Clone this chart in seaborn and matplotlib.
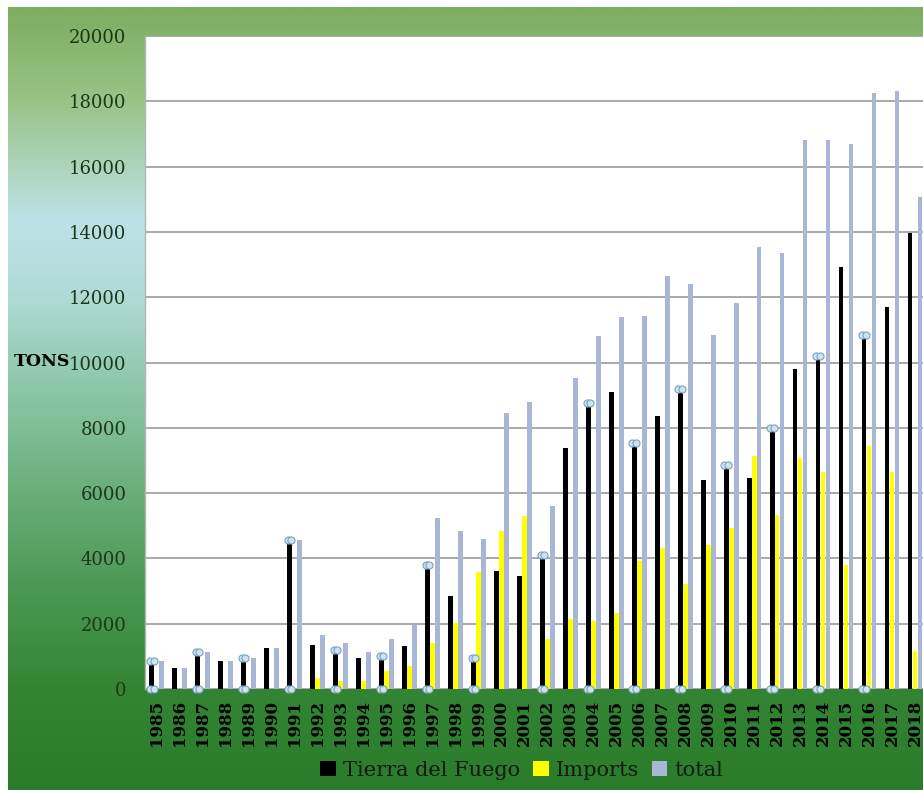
import numpy as np
import pandas as pd
import matplotlib
matplotlib.use("Agg")
import matplotlib.pyplot as plt
import matplotlib.transforms as mtransforms
from matplotlib.colors import LinearSegmentedColormap
from matplotlib.patches import Patch
import seaborn as sns

# ---------------- data ----------------
years = [str(y) for y in range(1985, 2019)]
tierra_del_fuego = [850, 650, 1140, 860, 950, 1250, 4560, 1350, 1190, 950, 1010, 1320,
                    3800, 2850, 940, 3620, 3470, 4100, 7390, 8750, 9110, 7520, 8360, 9200,
                    6400, 6860, 6450, 7980, 9790, 10200, 12910, 10850, 11710, 13980]
imports = [0, 0, 0, 0, 0, 0, 0, 340, 250, 250, 550, 690,
           1420, 2010, 3590, 4840, 5300, 1520, 2130, 2090, 2320, 3930, 4310, 3230,
           4410, 4920, 7150, 5330, 7070, 6660, 3800, 7440, 6660, 1170]
total = [850, 650, 1130, 860, 950, 1250, 4550, 1650, 1420, 1140, 1530, 1960,
         5250, 4840, 4580, 8440, 8780, 5600, 9520, 10810, 11400, 11420, 12650, 12400,
         10830, 11810, 13530, 13340, 16830, 16830, 16690, 18260, 18320, 15080]
series_names = ["Tierra del Fuego", "Imports", "total"]
marked_years = ["1985", "1987", "1989", "1991", "1993", "1995", "1997", "1999",
                "2002", "2004", "2006", "2008", "2010", "2012", "2014", "2016"]
y_ticks = list(range(0, 20001, 2000))

df = pd.DataFrame({
    "year": years * 3,
    "series": [series_names[0]] * len(years) + [series_names[1]] * len(years) + [series_names[2]] * len(years),
    "tons": tierra_del_fuego + imports + total,
})

colors = {"Tierra del Fuego": "#000000", "Imports": "#ffff00", "total": "#a9b6d6"}

# ---------------- figure ----------------
W, H = 923, 790
fig = plt.figure(figsize=(W / 100, H / 100), dpi=100, facecolor="white")

# gradient background panel
bg = fig.add_axes([8 / W, 0, 1 - 8 / W, 1 - 7 / H], zorder=-10)
stops = [(0.00, "#7cad60"), (0.12, "#98c488"), (0.27, "#bde2e6"), (0.36, "#b2dcd8"),
         (0.48, "#8ec8ac"), (0.62, "#69ae78"), (0.76, "#479650"), (0.87, "#338534"),
         (1.00, "#2a7b2a")]
cmap = LinearSegmentedColormap.from_list("bg", stops)
grad = np.linspace(0, 1, 512).reshape(-1, 1)
bg.imshow(grad, aspect="auto", cmap=cmap, extent=[0, 1, 0, 1], origin="upper")
bg.set_axis_off()

ax = fig.add_axes([145 / W, (H - 689) / H, 1 - 145 / W, (689 - 36) / H])
ax.set_facecolor("white")

sns.barplot(data=df, x="year", y="tons", hue="series", hue_order=series_names,
            palette=colors, width=0.65, gap=0.04, ax=ax, legend=False,
            saturation=1, zorder=3)

ax.set_xlim(-0.51, 33.35)
ax.set_ylim(0, 20000)
ax.set_yticks(y_ticks)
ax.set_yticklabels([str(v) for v in y_ticks])
ax.grid(axis="y", color="#a2a2a2", linewidth=1.3, zorder=0)
ax.grid(axis="x", visible=False)
ax.set_axisbelow(True)
for s in ["top", "right", "bottom"]:
    ax.spines[s].set_visible(False)
ax.spines["left"].set_color("#b5b5b5")
ax.spines["left"].set_linewidth(1.0)
ax.set_xlabel("")
ax.set_ylabel("")

ax.tick_params(axis="y", length=0, pad=13.5, labelsize=13, labelcolor="#1c361c")
ax.tick_params(axis="x", length=0, pad=8, labelsize=12, labelcolor="#000000")
for lab in ax.get_yticklabels():
    lab.set_family("DejaVu Serif")
for lab in ax.get_xticklabels():
    lab.set_family("DejaVu Serif")
    lab.set_fontweight("bold")
    lab.set_rotation(90)

# markers on selected Tierra del Fuego bars (top and bottom)
cont = ax.containers[0]
xs, ys = [], []
for i, y in enumerate(years):
    if y in marked_years:
        p = cont.patches[i]
        xc = p.get_x() + p.get_width() / 2
        xs += [xc, xc]
        ys += [p.get_height(), 0]
for dx in (-1.8, 1.8):
    tr = mtransforms.offset_copy(ax.transData, fig=fig, x=dx, y=0, units="dots")
    ax.scatter(xs, ys, s=26, marker="o", facecolor="#cfe2ee", edgecolor="#77a3c2",
               linewidth=0.8, transform=tr, clip_on=False, zorder=6)

# TONS label
fig.text(70 / W, 1 - 362 / H, "TONS", ha="right", va="center", fontsize=12.5,
         fontweight="bold", family="DejaVu Serif", color="#000000")

# legend
handles = [Patch(facecolor=colors[n], edgecolor="none") for n in series_names]
leg = fig.legend(handles, series_names, loc="center", bbox_to_anchor=(522 / W, 1 - 770 / H),
                 ncol=3, frameon=False, handlelength=0.75, handleheight=0.75,
                 handletextpad=0.35, columnspacing=0.6,
                 prop={"family": "DejaVu Serif", "size": 15})
for t in leg.get_texts():
    t.set_color("#111a11")

fig.savefig("out.png", dpi=100, facecolor="white")
